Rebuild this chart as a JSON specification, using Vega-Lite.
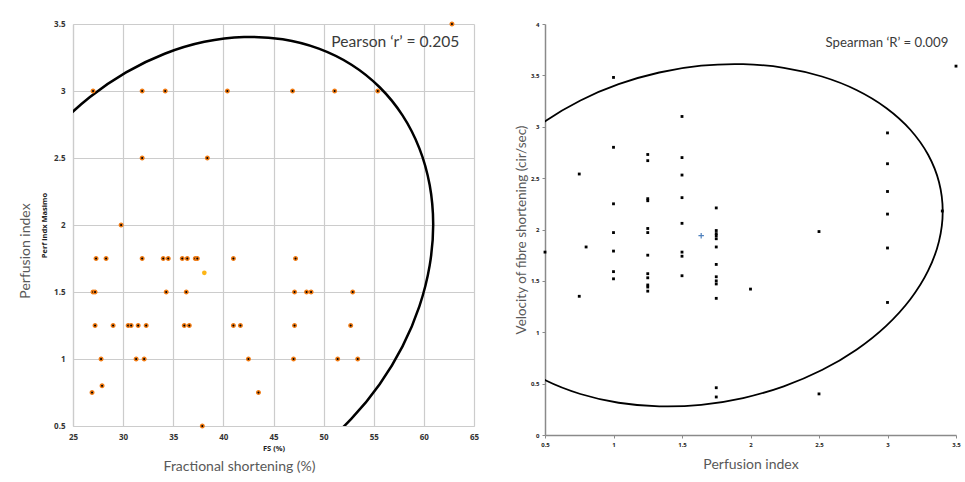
{
  "$schema": "https://vega.github.io/schema/vega-lite/v6.json",
  "background": "white",
  "padding": {"left": 18, "top": 19, "right": 4, "bottom": 4},
  "spacing": 35,
  "config": {"view": {"stroke": null}},
  "datasets": {
    "left": [
      {"fs": 62.8, "pi": 3.5},
      {"fs": 27.0, "pi": 3}, {"fs": 31.9, "pi": 3}, {"fs": 34.2, "pi": 3}, {"fs": 40.4, "pi": 3}, {"fs": 46.9, "pi": 3}, {"fs": 51.1, "pi": 3}, {"fs": 55.4, "pi": 3},
      {"fs": 31.9, "pi": 2.5}, {"fs": 38.4, "pi": 2.5},
      {"fs": 29.8, "pi": 2},
      {"fs": 27.3, "pi": 1.75}, {"fs": 28.3, "pi": 1.75}, {"fs": 31.9, "pi": 1.75}, {"fs": 34.0, "pi": 1.75}, {"fs": 34.5, "pi": 1.75}, {"fs": 35.9, "pi": 1.75}, {"fs": 36.4, "pi": 1.75}, {"fs": 37.2, "pi": 1.75}, {"fs": 37.4, "pi": 1.75}, {"fs": 41.0, "pi": 1.75}, {"fs": 47.2, "pi": 1.75},
      {"fs": 27.0, "pi": 1.5}, {"fs": 27.2, "pi": 1.5}, {"fs": 34.3, "pi": 1.5}, {"fs": 36.3, "pi": 1.5}, {"fs": 47.1, "pi": 1.5}, {"fs": 48.3, "pi": 1.5}, {"fs": 48.75, "pi": 1.5}, {"fs": 52.9, "pi": 1.5},
      {"fs": 27.2, "pi": 1.25}, {"fs": 29.0, "pi": 1.25}, {"fs": 30.5, "pi": 1.25}, {"fs": 30.8, "pi": 1.25}, {"fs": 31.5, "pi": 1.25}, {"fs": 32.3, "pi": 1.25}, {"fs": 36.1, "pi": 1.25}, {"fs": 36.6, "pi": 1.25}, {"fs": 41.0, "pi": 1.25}, {"fs": 41.7, "pi": 1.25}, {"fs": 47.1, "pi": 1.25}, {"fs": 52.7, "pi": 1.25},
      {"fs": 27.8, "pi": 1}, {"fs": 31.3, "pi": 1}, {"fs": 32.1, "pi": 1}, {"fs": 42.5, "pi": 1}, {"fs": 47.0, "pi": 1}, {"fs": 51.4, "pi": 1}, {"fs": 53.4, "pi": 1},
      {"fs": 27.9, "pi": 0.8},
      {"fs": 26.9, "pi": 0.75}, {"fs": 43.5, "pi": 0.75},
      {"fs": 37.9, "pi": 0.5}
    ],
    "leftMean": [{"fs": 38.1, "pi": 1.643}],
    "leftEllipse": [
      {"ord": 1, "fs": 42.06, "pi": 0.008}, {"ord": 2, "fs": 45.91, "pi": 0.147}, {"ord": 3, "fs": 49.52, "pi": 0.331}, {"ord": 4, "fs": 52.78, "pi": 0.555},
      {"ord": 5, "fs": 55.59, "pi": 0.812}, {"ord": 6, "fs": 57.87, "pi": 1.094}, {"ord": 7, "fs": 59.55, "pi": 1.393}, {"ord": 8, "fs": 60.58, "pi": 1.699},
      {"ord": 9, "fs": 60.93, "pi": 2.004}, {"ord": 10, "fs": 60.58, "pi": 2.298}, {"ord": 11, "fs": 59.55, "pi": 2.572}, {"ord": 12, "fs": 57.87, "pi": 2.818},
      {"ord": 13, "fs": 55.59, "pi": 3.028}, {"ord": 14, "fs": 52.78, "pi": 3.196}, {"ord": 15, "fs": 49.52, "pi": 3.316}, {"ord": 16, "fs": 45.91, "pi": 3.386},
      {"ord": 17, "fs": 42.06, "pi": 3.403}, {"ord": 18, "fs": 38.1, "pi": 3.367}, {"ord": 19, "fs": 34.14, "pi": 3.278}, {"ord": 20, "fs": 30.29, "pi": 3.139},
      {"ord": 21, "fs": 26.69, "pi": 2.955}, {"ord": 22, "fs": 23.43, "pi": 2.731}, {"ord": 23, "fs": 20.61, "pi": 2.475}
    ],
    "right": [
      {"pi": 0.5, "v": 1.78}, {"pi": 0.75, "v": 2.54}, {"pi": 0.75, "v": 1.35}, {"pi": 0.8, "v": 1.83},
      {"pi": 1, "v": 3.48}, {"pi": 1, "v": 2.80}, {"pi": 1, "v": 2.25}, {"pi": 1, "v": 1.97}, {"pi": 1, "v": 1.79}, {"pi": 1, "v": 1.59}, {"pi": 1, "v": 1.52},
      {"pi": 1.25, "v": 2.73}, {"pi": 1.25, "v": 2.67}, {"pi": 1.25, "v": 2.30}, {"pi": 1.25, "v": 2.28}, {"pi": 1.25, "v": 2.01}, {"pi": 1.25, "v": 1.97}, {"pi": 1.25, "v": 1.75}, {"pi": 1.25, "v": 1.57}, {"pi": 1.25, "v": 1.53}, {"pi": 1.25, "v": 1.46}, {"pi": 1.25, "v": 1.44}, {"pi": 1.25, "v": 1.40},
      {"pi": 1.5, "v": 3.10}, {"pi": 1.5, "v": 2.70}, {"pi": 1.5, "v": 2.53}, {"pi": 1.5, "v": 2.31}, {"pi": 1.5, "v": 2.06}, {"pi": 1.5, "v": 1.78}, {"pi": 1.5, "v": 1.74}, {"pi": 1.5, "v": 1.55},
      {"pi": 1.75, "v": 2.21}, {"pi": 1.75, "v": 1.99}, {"pi": 1.75, "v": 1.96}, {"pi": 1.75, "v": 1.94}, {"pi": 1.75, "v": 1.91}, {"pi": 1.75, "v": 1.83}, {"pi": 1.75, "v": 1.66}, {"pi": 1.75, "v": 1.54}, {"pi": 1.75, "v": 1.50}, {"pi": 1.75, "v": 1.47}, {"pi": 1.75, "v": 1.33}, {"pi": 1.75, "v": 0.46}, {"pi": 1.75, "v": 0.37},
      {"pi": 2, "v": 1.42}, {"pi": 2.5, "v": 1.98}, {"pi": 2.5, "v": 0.40},
      {"pi": 3, "v": 2.94}, {"pi": 3, "v": 2.64}, {"pi": 3, "v": 2.37}, {"pi": 3, "v": 2.15}, {"pi": 3, "v": 1.82}, {"pi": 3, "v": 1.29},
      {"pi": 3.4, "v": 2.18}, {"pi": 3.5, "v": 3.59}
    ],
    "rightMean": [{"pi": 1.64, "v": 1.94}],
    "rightEllipse": [
      {"ord": 1, "pi": 0.2895, "v": 2.826}, {"ord": 2, "pi": 0.5067, "v": 3.058}, {"ord": 3, "pi": 0.7585, "v": 3.256}, {"ord": 4, "pi": 1.0371, "v": 3.414},
      {"ord": 5, "pi": 1.3339, "v": 3.528}, {"ord": 6, "pi": 1.64, "v": 3.594}, {"ord": 7, "pi": 1.9461, "v": 3.609}, {"ord": 8, "pi": 2.2429, "v": 3.574},
      {"ord": 9, "pi": 2.5215, "v": 3.489}, {"ord": 10, "pi": 2.7733, "v": 3.358}, {"ord": 11, "pi": 2.9905, "v": 3.183}, {"ord": 12, "pi": 3.1668, "v": 2.971},
      {"ord": 13, "pi": 3.2967, "v": 2.727}, {"ord": 14, "pi": 3.3762, "v": 2.460}, {"ord": 15, "pi": 3.403, "v": 2.177}, {"ord": 16, "pi": 3.3762, "v": 1.887},
      {"ord": 17, "pi": 3.2967, "v": 1.599}, {"ord": 18, "pi": 3.1668, "v": 1.321}, {"ord": 19, "pi": 2.9905, "v": 1.062}, {"ord": 20, "pi": 2.7733, "v": 0.830},
      {"ord": 21, "pi": 2.5215, "v": 0.632}, {"ord": 22, "pi": 2.2429, "v": 0.474}, {"ord": 23, "pi": 1.9461, "v": 0.360}, {"ord": 24, "pi": 1.64, "v": 0.294},
      {"ord": 25, "pi": 1.3339, "v": 0.279}, {"ord": 26, "pi": 1.0371, "v": 0.314}, {"ord": 27, "pi": 0.7585, "v": 0.399}, {"ord": 28, "pi": 0.5067, "v": 0.530},
      {"ord": 29, "pi": 0.2895, "v": 0.705}
    ]
  },
  "hconcat": [
    {
      "spacing": 0,
      "title": {"text": "Fractional shortening (%)", "orient": "bottom", "frame": "bounds", "anchor": "middle", "font": "Lato", "fontSize": 14, "fontWeight": "normal", "color": "#595959", "offset": 8, "dx": -9},
      "vconcat": [
        {
          "width": 401,
          "height": 402,
          "title": {"text": "Perfusion index", "orient": "left", "frame": "group", "anchor": "middle", "font": "Lato", "fontSize": 14, "fontWeight": "normal", "color": "#595959", "offset": 8, "dx": -26},
          "layer": [
            {
              "data": {"name": "leftEllipse"},
              "mark": {"type": "line", "color": "black", "strokeWidth": 2.5, "interpolate": "catmull-rom", "clip": true},
              "encoding": {
                "x": {"field": "fs", "type": "quantitative", "scale": {"domain": [25, 65], "nice": false, "zero": false},
                  "axis": {"orient": "bottom", "values": [25, 30, 35, 40, 45, 50, 55, 60, 65], "format": "~g", "grid": true, "gridColor": "#cccccc", "gridWidth": 1.2, "domain": true, "domainColor": "#cccccc", "domainWidth": 1.2, "ticks": false, "labelFont": "Open Sans", "labelFontSize": 8, "labelFontWeight": "bold", "labelColor": "#333333", "labelPadding": 7, "labelFlush": false, "labelOverlap": false, "title": "FS (%)", "titleFont": "Open Sans", "titleFontSize": 7.5, "titleFontWeight": "bold", "titleColor": "#222222", "titlePadding": 3}},
                "y": {"field": "pi", "type": "quantitative", "scale": {"domain": [0.5, 3.5], "nice": false, "zero": false},
                  "axis": {"orient": "left", "values": [0.5, 1, 1.5, 2, 2.5, 3, 3.5], "format": "~g", "grid": true, "gridColor": "#cccccc", "gridWidth": 1.2, "domain": true, "domainColor": "#cccccc", "domainWidth": 1.2, "ticks": false, "labelFont": "Open Sans", "labelFontSize": 8, "labelFontWeight": "bold", "labelColor": "#333333", "labelPadding": 8, "labelFlush": false, "labelOverlap": false, "title": "Perf indx Masimo", "titleFont": "Open Sans", "titleFontSize": 7.5, "titleFontWeight": "bold", "titleColor": "#222222", "titlePadding": 5}},
                "order": {"field": "ord", "type": "quantitative"}
              }
            },
            {
              "data": {"name": "left"},
              "mark": {"type": "circle", "fill": "black", "stroke": "#f07a12", "strokeWidth": 1.5, "size": 12, "opacity": 1},
              "encoding": {
                "x": {"field": "fs", "type": "quantitative"},
                "y": {"field": "pi", "type": "quantitative"}
              }
            },
            {
              "data": {"name": "leftMean"},
              "mark": {"type": "circle", "color": "#fdb515", "size": 22, "opacity": 1},
              "encoding": {
                "x": {"field": "fs", "type": "quantitative"},
                "y": {"field": "pi", "type": "quantitative"}
              }
            },
            {
              "data": {"values": [{}]},
              "mark": {"type": "text", "text": "Pearson ‘r’ = 0.205", "font": "Lato", "fontSize": 15.6, "color": "#3a3a3a", "align": "center", "baseline": "middle"},
              "encoding": {
                "x": {"datum": 57.15, "type": "quantitative"},
                "y": {"datum": 3.368, "type": "quantitative"}
              }
            }
          ]
        }
      ]
    },
    {
      "width": 411,
      "height": 411,
      "layer": [
        {
          "data": {"name": "rightEllipse"},
          "mark": {"type": "line", "color": "black", "strokeWidth": 1.8, "interpolate": "catmull-rom", "clip": true},
          "encoding": {
            "x": {"field": "pi", "type": "quantitative", "scale": {"domain": [0.5, 3.5], "nice": false, "zero": false},
              "axis": {"values": [0.5, 0.75, 1, 1.25, 1.5, 1.75, 2, 2.25, 2.5, 2.75, 3, 3.25, 3.5], "format": "~g", "grid": false, "domain": true, "domainColor": "#8a8a8a", "domainWidth": 1.5, "ticks": true, "tickColor": "#8a8a8a", "tickSize": 3, "labelFont": "Open Sans", "labelFontSize": 6, "labelFontWeight": "bold", "labelColor": "#222222", "labelPadding": 3, "labelFlush": false, "labelOverlap": false, "title": "Perfusion index", "titleFont": "Lato", "titleFontSize": 14, "titleFontWeight": "normal", "titleColor": "#595959", "titlePadding": 10}},
            "y": {"field": "v", "type": "quantitative", "scale": {"domain": [0, 4], "nice": false, "zero": false},
              "axis": {"values": [0, 0.5, 1, 1.5, 2, 2.5, 3, 3.5, 4], "format": "~g", "grid": false, "domain": true, "domainColor": "#8a8a8a", "domainWidth": 1.5, "ticks": true, "tickColor": "#8a8a8a", "tickSize": 3, "labelFont": "Open Sans", "labelFontSize": 6, "labelFontWeight": "bold", "labelColor": "#222222", "labelPadding": 3, "labelFlush": false, "labelOverlap": false, "title": "Velocity of fibre shortening (cir/sec)", "titleFont": "Lato", "titleFontSize": 13.5, "titleFontWeight": "normal", "titleColor": "#595959", "titlePadding": 2}},
            "order": {"field": "ord", "type": "quantitative"}
          }
        },
        {
          "data": {"name": "right"},
          "mark": {"type": "square", "color": "black", "size": 8, "opacity": 1},
          "encoding": {
            "x": {"field": "pi", "type": "quantitative"},
            "y": {"field": "v", "type": "quantitative"}
          }
        },
        {
          "data": {"name": "rightMean"},
          "mark": {"type": "point", "shape": "M-1,0L1,0M0,-1L0,1", "filled": false, "color": "#4f81bd", "strokeWidth": 1.2, "size": 30, "opacity": 1},
          "encoding": {
            "x": {"field": "pi", "type": "quantitative"},
            "y": {"field": "v", "type": "quantitative"}
          }
        },
        {
          "data": {"values": [{}]},
          "mark": {"type": "text", "text": "Spearman ‘R’ = 0.009", "font": "Lato", "fontSize": 13.2, "color": "#3a3a3a", "align": "center", "baseline": "middle"},
          "encoding": {
            "x": {"datum": 2.996, "type": "quantitative"},
            "y": {"datum": 3.813, "type": "quantitative"}
          }
        }
      ]
    }
  ]
}
